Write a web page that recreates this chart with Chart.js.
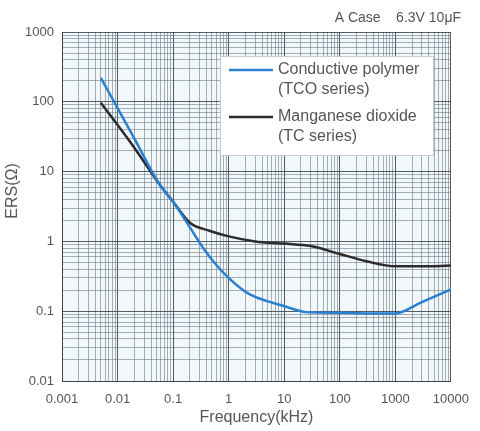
<!DOCTYPE html>
<html>
<head>
<meta charset="utf-8">
<script src="https://cdn.jsdelivr.net/npm/chart.js@4"></script>
<style>
  html, body { margin: 0; padding: 0; background: #ffffff; }
  #wrap { width: 480px; height: 431px; position: relative; }
</style>
</head>
<body>
<div id="wrap"><canvas id="c" width="480" height="431"></canvas></div>
<script>
// ---- data ----
const polymerFreq = [0.005, 0.02, 0.056, 0.1, 0.19, 0.35, 0.6, 1, 2, 3, 10, 25, 100, 300, 1000, 3000, 10000];
const polymerESR  = [220, 30, 6.7, 3.7, 1.7, 0.8, 0.46, 0.3, 0.19, 0.16, 0.118, 0.097, 0.095, 0.093, 0.093, 0.135, 0.205];
const mno2Freq = [0.005, 0.02, 0.056, 0.1, 0.2, 0.45, 1, 3, 10, 30, 100, 300, 1000, 3000, 10000];
const mno2ESR  = [97, 22, 6.7, 3.7, 1.85, 1.42, 1.18, 1.0, 0.93, 0.86, 0.66, 0.52, 0.44, 0.44, 0.45];

const seriesNames = [["Conductive polymer", "(TCO series)"], ["Manganese dioxide", "(TC series)"]];
const freqTicks = [0.001, 0.01, 0.1, 1, 10, 100, 1000, 10000];
const freqTickLabels = ["0.001", "0.01", "0.1", "1", "10", "100", "1000", "10000"];
const esrTicks = [0.01, 0.1, 1, 10, 100, 1000];
const esrTickLabels = ["0.01", "0.1", "1", "10", "100", "1000"];
const xTitle = "Frequency(kHz)";
const yTitle = "ERS(\u03A9)";
const caseTitle = "A Case    6.3V 10\u03BCF";

// ---- helpers ----
function logPaper(decades) {
  const out = [];
  for (let i = 0; i < decades.length; i++) {
    out.push({ value: decades[i], major: true });
    if (i < decades.length - 1) {
      for (let m = 2; m <= 9; m++) out.push({ value: decades[i] * m, major: false });
    }
  }
  return out;
}
function labelFor(decades, labels) {
  const map = new Map(decades.map((v, i) => [v, labels[i]]));
  return (value) => (map.has(value) ? map.get(value) : "");
}

const textColor = "#555555";
const fontFamily = "'Liberation Sans', Arial, Helvetica, sans-serif";

const paperPlugin = {
  id: "paper",
  beforeDraw(chart) {
    const { ctx, chartArea: a } = chart;
    ctx.save();
    ctx.fillStyle = "#f2f7fa";
    ctx.fillRect(a.left, a.top, a.right - a.left, a.bottom - a.top);
    ctx.restore();
  },
  afterDraw(chart) {
    const { ctx, chartArea: a } = chart;
    // y axis title
    ctx.save();
    ctx.fillStyle = textColor;
    ctx.font = "16px " + fontFamily;
    ctx.textAlign = "center";
    ctx.textBaseline = "middle";
    ctx.translate(13, a.top + 159);
    ctx.rotate(-Math.PI / 2);
    ctx.fillText(yTitle, 0, 0);
    ctx.restore();

    // legend box
    const bx = a.left + 158, by = a.top + 24, bw = 213, bh = 99;
    ctx.save();
    ctx.fillStyle = "#ffffff";
    ctx.fillRect(bx, by, bw, bh);
    ctx.strokeStyle = "#c8ccd0";
    ctx.lineWidth = 1;
    ctx.strokeRect(bx + 0.5, by + 0.5, bw, bh);
    ctx.font = "16px " + fontFamily;
    ctx.textBaseline = "middle";
    ctx.textAlign = "left";
    chart.data.datasets.forEach((ds, i) => {
      const y0 = by + 14 + i * 47;
      ctx.strokeStyle = ds.borderColor;
      ctx.lineWidth = 2.5;
      ctx.beginPath();
      ctx.moveTo(bx + 9, y0);
      ctx.lineTo(bx + 53, y0);
      ctx.stroke();
      ctx.fillStyle = textColor;
      seriesNames[i].forEach((t, k) => ctx.fillText(t, bx + 58, y0 + k * 19.5));
    });
    ctx.restore();
  }
};

new Chart(document.getElementById("c"), {
  type: "line",
  data: {
    datasets: [
      {
        label: seriesNames[0].join(" "),
        data: polymerFreq.map((f, i) => ({ x: f, y: polymerESR[i] })),
        borderColor: "#2a80d0",
        borderWidth: 2.5,
        pointRadius: 0,
        cubicInterpolationMode: "monotone",
        fill: false
      },
      {
        label: seriesNames[1].join(" "),
        data: mno2Freq.map((f, i) => ({ x: f, y: mno2ESR[i] })),
        borderColor: "#2b2b2b",
        borderWidth: 2.5,
        pointRadius: 0,
        cubicInterpolationMode: "monotone",
        fill: false
      }
    ]
  },
  options: {
    responsive: false,
    animation: false,
    devicePixelRatio: 1,
    layout: { padding: { left: 0, right: 19, top: 0, bottom: 0 } },
    plugins: {
      legend: { display: false },
      tooltip: { enabled: false },
      title: {
        display: true,
        text: caseTitle,
        align: "end",
        color: textColor,
        font: { family: fontFamily, size: 14, weight: "normal" },
        padding: { top: 10, bottom: 5.2 }
      }
    },
    scales: {
      x: {
        type: "logarithmic",
        min: freqTicks[0],
        max: freqTicks[freqTicks.length - 1],
        afterBuildTicks: (s) => { s.ticks = logPaper(freqTicks); },
        afterFit: (s) => { s.height = 50; },
        ticks: {
          autoSkip: false,
          maxRotation: 0,
          padding: 11,
          color: textColor,
          font: { family: fontFamily, size: 13 },
          callback: labelFor(freqTicks, freqTickLabels)
        },
        grid: {
          drawTicks: false,
          color: (c) => (c.tick && c.tick.major ? "rgba(55,65,75,0.85)" : "rgba(95,115,128,0.55)"),
          lineWidth: 1
        },
        border: { display: true, color: "rgba(55,65,75,0.9)" },
        title: {
          display: true,
          text: xTitle,
          color: textColor,
          font: { family: fontFamily, size: 16 },
          padding: { top: 0, bottom: 4 }
        }
      },
      y: {
        type: "logarithmic",
        min: esrTicks[0],
        max: esrTicks[esrTicks.length - 1],
        afterBuildTicks: (s) => { s.ticks = logPaper(esrTicks); },
        afterFit: (s) => { s.width = 62; },
        ticks: {
          autoSkip: false,
          padding: 8,
          color: textColor,
          font: { family: fontFamily, size: 13 },
          callback: labelFor(esrTicks, esrTickLabels)
        },
        grid: {
          drawTicks: false,
          color: (c) => (c.tick && c.tick.major ? "rgba(55,65,75,0.85)" : "rgba(95,115,128,0.55)"),
          lineWidth: 1
        },
        border: { display: true, color: "rgba(55,65,75,0.9)" }
      }
    }
  },
  plugins: [paperPlugin]
});
</script>
</body>
</html>
